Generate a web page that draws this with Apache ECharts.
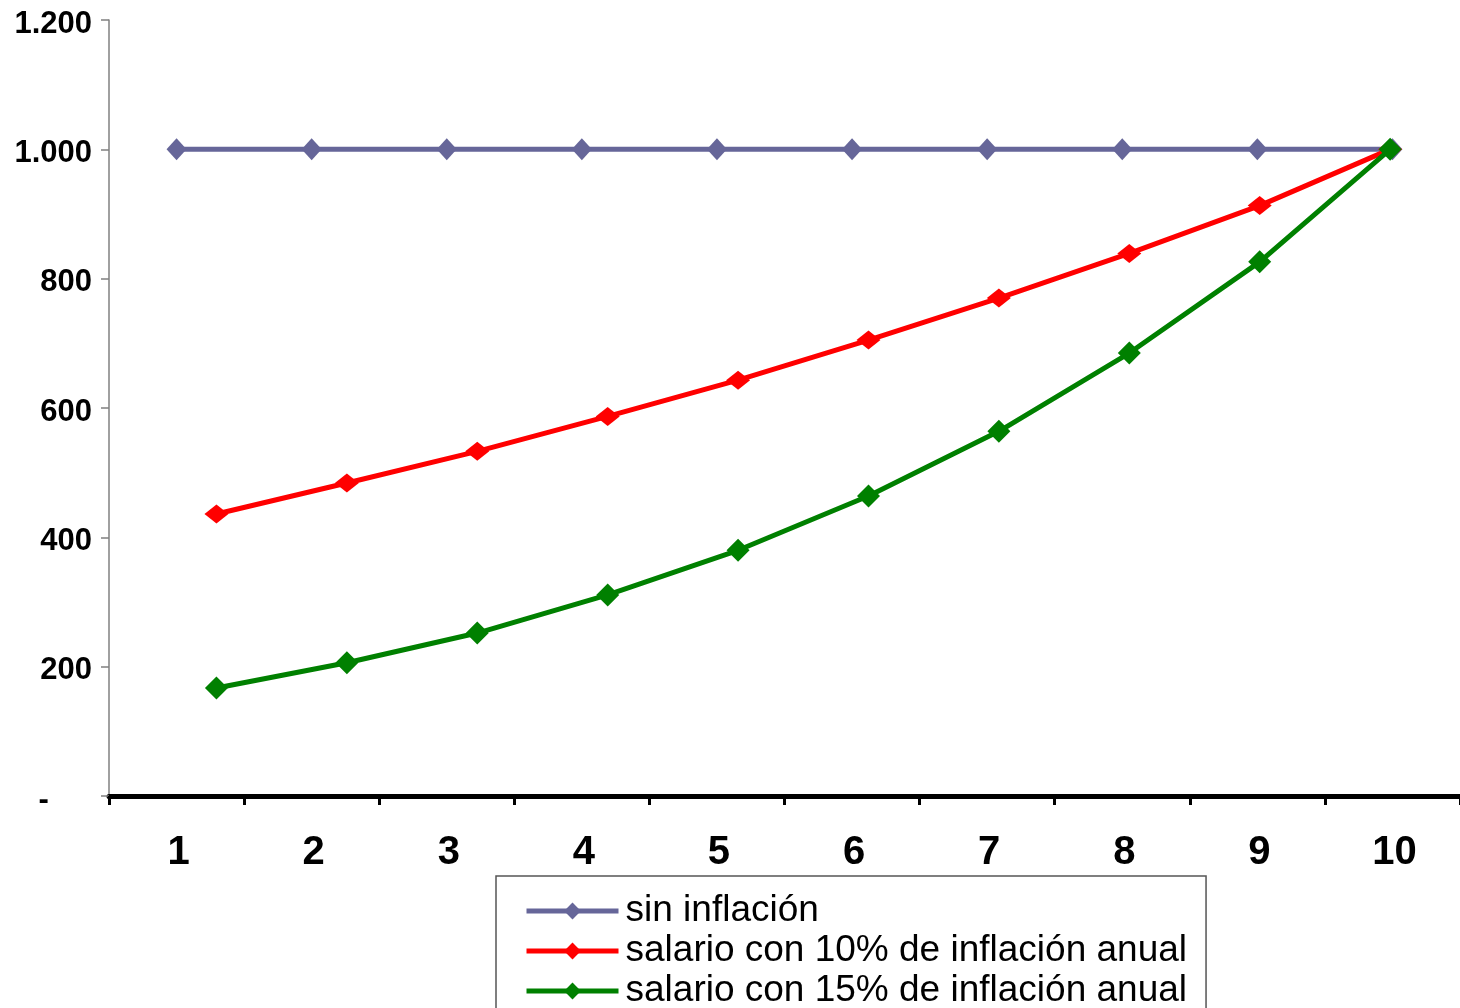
<!DOCTYPE html>
<html>
<head>
<meta charset="utf-8">
<style>
html,body{margin:0;padding:0;background:#fff;}
#chart{width:1460px;height:1008px;}
</style>
<script src="https://cdn.jsdelivr.net/npm/echarts@6/dist/echarts.min.js"></script>
</head>
<body>
<div id="chart"></div>
<script>
// Data
var categories = ['1','2','3','4','5','6','7','8','9','10'];
var sinInflacion = [1000, 1000, 1000, 1000, 1000, 1000, 1000, 1000, 1000, 1000];
var salario10 = [436, 484, 533, 587, 643, 705, 770, 839, 913, 1000];
var salario15 = [167, 206, 252, 311, 380, 464, 564, 685, 826, 1000];
var periodos = [1, 2, 3, 4, 5, 6, 7, 8, 9, 10];
var seriesNames = ['sin inflación', 'salario con 10% de inflación anual', 'salario con 15% de inflación anual'];

function pairs(xs, ys){ return xs.map(function(x,i){ return [x, ys[i]]; }); }

var font = "'Liberation Sans', Arial, sans-serif";
var chart = echarts.init(document.getElementById('chart'), null, {renderer:'canvas'});
chart.setOption({
  animation: false,
  backgroundColor: '#ffffff',
  grid: { left: 109, top: 20, width: 1354, height: 776, containLabel: false },
  xAxis: [{
    type: 'category',
    data: categories,
    boundaryGap: true,
    axisLine: { lineStyle: { color: '#000', width: 5 } },
    axisTick: { show: true, alignWithLabel: false, length: 9, lineStyle: { color: '#000', width: 3 } },
    axisLabel: { color: '#000', fontFamily: font, fontWeight: 'bold', fontSize: 40, margin: 37, padding: [0,0,0,4] },
    splitLine: { show: false }
  }, {
    type: 'value',
    show: false,
    min: 0.176,
    max: 10.536,
    splitLine: { show: false }
  }],
  yAxis: [{
    type: 'value',
    min: 0,
    max: 1200,
    interval: 200,
    axisLine: { show: true, lineStyle: { color: '#808080', width: 1.5 } },
    axisTick: { show: true, inside: false, length: 8, lineStyle: { color: '#808080', width: 1.5 } },
    splitLine: { show: false },
    axisLabel: {
      color: '#000', fontFamily: font, fontWeight: 'bold', fontSize: 31, margin: 17,
      formatter: function(v){
        if (v === 0) return '{t|-     }';
        var s = String(v);
        s = s.length > 3 ? s.slice(0, s.length-3) + '.' + s.slice(s.length-3) : s;
        return '{t|' + s + '}';
      },
      rich: {
        t: { color: '#000', fontFamily: font, fontWeight: 'bold', fontSize: 31, padding: [8, 0, 0, 0] }
      }
    }
  }],
  legend: {
    orient: 'vertical',
    left: 496,
    top: 876,
    height: 200,
    padding: [15, 19, 10, 28],
    borderColor: '#555',
    borderWidth: 1.5,
    backgroundColor: '#fff',
    itemWidth: 92,
    itemHeight: 21,
    itemGap: 0,
    lineStyle: { width: 5 },
    textStyle: { color: '#000', fontFamily: font, fontSize: 37, lineHeight: 40, padding: [0,0,0,2] },
    data: seriesNames
  },
  series: [{
    name: seriesNames[0],
    type: 'line',
    xAxisIndex: 0,
    data: sinInflacion,
    symbol: 'diamond',
    symbolSize: [20, 22],
    lineStyle: { color: '#666699', width: 5 },
    itemStyle: { color: '#666699' }
  }, {
    name: seriesNames[1],
    type: 'line',
    xAxisIndex: 1,
    data: pairs(periodos, salario10),
    symbol: 'diamond',
    symbolSize: [24, 19],
    lineStyle: { color: '#ff0000', width: 5 },
    itemStyle: { color: '#ff0000' }
  }, {
    name: seriesNames[2],
    type: 'line',
    xAxisIndex: 1,
    data: pairs(periodos, salario15),
    symbol: 'diamond',
    symbolSize: [23, 23],
    lineStyle: { color: '#008000', width: 5 },
    itemStyle: { color: '#008000' }
  }]
});
</script>
</body>
</html>
